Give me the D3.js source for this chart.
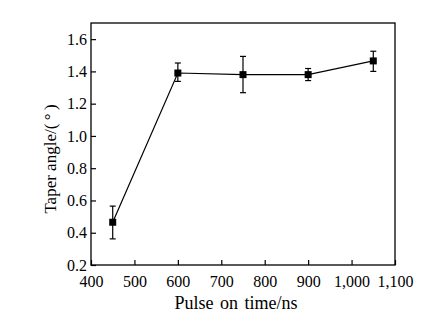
<!DOCTYPE html>
<html>
<head>
<meta charset="utf-8">
<script src="https://cdn.jsdelivr.net/npm/d3@7"></script>
<style>
  body { margin: 0; background: #fff; }
  svg { display: block; }
</style>
</head>
<body>
<svg id="chart" width="443" height="323"></svg>
<script>
// data
var pulseTimes = [450, 600, 750, 900, 1050];
var taperAngle = [0.465, 1.39, 1.38, 1.38, 1.465];
var errLow = [0.362, 1.338, 1.268, 1.343, 1.40];
var errHigh = [0.565, 1.452, 1.493, 1.418, 1.525];
var xTicks = [400, 500, 600, 700, 800, 900, 1000, 1100];
var yTicks = [0.2, 0.4, 0.6, 0.8, 1.0, 1.2, 1.4, 1.6];

// plot box (note: "top" is taken by window.top, so use prefixed names)
var plotLeft = 91, plotRight = 395, plotTop = 23, plotBottom = 265;
var font = 'Liberation Serif';

var svg = d3.select('#chart');

var xScale = d3.scaleLinear().domain([400, 1100]).range([plotLeft, plotRight]);
var yScale = d3.scaleLinear().domain([0.2, 1.7]).range([plotBottom, plotTop]);

var points = pulseTimes.map(function(t, i) {
  return { t: t, v: taperAngle[i], lo: errLow[i], hi: errHigh[i] };
});

// frame
svg.append('rect')
  .attr('x', plotLeft).attr('y', plotTop)
  .attr('width', plotRight - plotLeft).attr('height', plotBottom - plotTop)
  .style('fill', 'none').style('stroke', '#000').style('stroke-width', 1.3);

// x axis, ticks inside
var xAxis = d3.axisBottom(xScale).tickValues(xTicks).tickSizeInner(-5).tickSizeOuter(0)
  .tickPadding(11).tickFormat(d3.format(','));
var gx = svg.append('g')
  .attr('transform', 'translate(0,' + plotBottom + ')')
  .call(xAxis);
gx.select('.domain').remove();
gx.selectAll('line').style('stroke-width', 1.2);
gx.selectAll('text').attr('font-family', font).attr('font-size', 16).style('fill', '#000');

// y axis, ticks inside
var yAxis = d3.axisLeft(yScale).tickValues(yTicks).tickSizeInner(-5).tickSizeOuter(0)
  .tickPadding(4).tickFormat(d3.format('.1f'));
var gy = svg.append('g')
  .attr('transform', 'translate(' + plotLeft + ',0)')
  .call(yAxis);
gy.select('.domain').remove();
gy.selectAll('line').style('stroke-width', 1.2);
gy.selectAll('text').attr('font-family', font).attr('font-size', 16).style('fill', '#000');

// line
var line = d3.line()
  .x(function(d) { return xScale(d.t); })
  .y(function(d) { return yScale(d.v); });
svg.append('path')
  .datum(points)
  .attr('d', line)
  .style('fill', 'none').style('stroke', '#000').style('stroke-width', 1.2);

// error bars
var err = svg.append('g').style('stroke', '#000').style('stroke-width', 1.2);
err.selectAll('.stem').data(points).enter().append('line')
  .attr('x1', function(d) { return xScale(d.t); })
  .attr('x2', function(d) { return xScale(d.t); })
  .attr('y1', function(d) { return yScale(d.lo); })
  .attr('y2', function(d) { return yScale(d.hi); });
err.selectAll('.capHi').data(points).enter().append('line')
  .attr('x1', function(d) { return xScale(d.t) - 3; })
  .attr('x2', function(d) { return xScale(d.t) + 3; })
  .attr('y1', function(d) { return yScale(d.hi); })
  .attr('y2', function(d) { return yScale(d.hi); });
err.selectAll('.capLo').data(points).enter().append('line')
  .attr('x1', function(d) { return xScale(d.t) - 3; })
  .attr('x2', function(d) { return xScale(d.t) + 3; })
  .attr('y1', function(d) { return yScale(d.lo); })
  .attr('y2', function(d) { return yScale(d.lo); });

// markers
svg.selectAll('.marker').data(points).enter().append('rect')
  .attr('x', function(d) { return xScale(d.t) - 3.5; })
  .attr('y', function(d) { return yScale(d.v) - 3.5; })
  .attr('width', 7).attr('height', 7)
  .style('fill', '#000');

// axis titles
svg.append('text')
  .attr('x', 236)
  .attr('y', 309)
  .attr('text-anchor', 'middle')
  .attr('font-family', font).attr('font-size', 18)
  .style('word-spacing', '2px')
  .text('Pulse on time/ns');

svg.append('text')
  .attr('transform', 'translate(56,159) rotate(-90)')
  .attr('text-anchor', 'middle')
  .attr('font-family', font).attr('font-size', 17)
  .text('Taper angle/(\u2009°\u2009)');
</script>
</body>
</html>
